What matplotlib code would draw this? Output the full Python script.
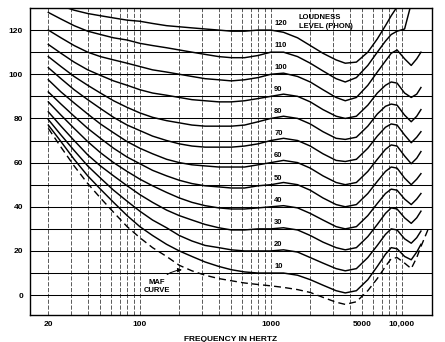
import matplotlib
matplotlib.use("Agg")
import matplotlib.pyplot as plt
from matplotlib.ticker import NullFormatter

FREQS = [20, 25, 31.5, 40, 50, 63, 80, 100, 125, 160, 200, 250, 315, 400, 500,
         630, 800, 1000, 1250, 1600, 2000, 2500, 3150, 3700, 4500, 5500, 6500,
         7500, 8300, 9200, 10500, 11800, 13000, 14000]

# Sound pressure level (dB) of each equal-loudness contour
PHON_10 = [77, 69.5, 61.5, 54, 48, 42, 36, 31, 27, 23, 20, 17.5, 15, 13, 11.5,
           10.5, 10, 10, 10, 9, 7, 4.5, 2, 1, 2, 7, 13, 18.5, 21.5, 21, 17.5, 16, 19.5, 23]
PHON_20 = [79.5, 72.5, 65.5, 58.5, 53, 47.5, 42.5, 38, 34, 30.5, 27, 24.5, 22.5, 21.5, 20.5,
           20, 20, 20, 20.5, 19.5, 17, 14.5, 12, 11, 12, 17, 22.5, 27.5, 30, 29.5, 25.5, 23.5, 26, 29]
PHON_30 = [83, 76.5, 70, 63.5, 58.5, 54, 49.5, 45.5, 42, 38.5, 36, 34, 32, 30.5, 29.5,
           29.5, 30, 30, 30.5, 29.5, 27, 24, 21.5, 20.5, 21.5, 26.5, 32, 37, 39.5, 39, 35, 32.5, 35, 38]
PHON_40 = [87.5, 81.5, 75.5, 69.5, 64.5, 60, 56, 52.5, 49.5, 46.5, 44, 42, 40.5, 39.5, 39,
           39, 39.5, 40, 40.5, 39.5, 37, 34, 31, 30, 31, 36, 41.5, 46, 48, 47.5, 43.5, 41, 43.5, 46]
PHON_50 = [92, 86.5, 81, 75.5, 71, 66.5, 62.5, 59.5, 56.5, 54, 52, 50.5, 49.5, 49, 48.5,
           48.5, 49.5, 50, 51, 50, 47.5, 44, 41, 40, 41, 46, 51.5, 56, 58, 57.5, 53, 50, 52.5, 55]
PHON_60 = [97.5, 92, 87, 82, 77.5, 73.5, 69.5, 66.5, 64, 61.5, 60, 59, 58.5, 58, 58,
           58, 59, 60, 61, 60, 57.5, 54, 51, 50, 51, 56, 61.5, 66, 68, 67.5, 63, 59.5, 62, 65]
PHON_70 = [103, 98, 93, 88.5, 84.5, 80.5, 77, 74.5, 72, 70, 68.5, 67.5, 67, 67, 67,
           67.5, 68.5, 70, 71, 70, 67.5, 64, 61, 60.5, 61.5, 66.5, 72, 76, 77.5, 77, 72.5, 69, 71.5, 74]
PHON_80 = [108, 103.5, 99, 95, 91.5, 88, 85, 82.5, 80.5, 79, 78, 77, 76.5, 76.5, 76.5,
           77, 78.5, 80, 81, 80, 77.5, 74, 71, 70.5, 71.5, 76.5, 82, 85.5, 86.5, 86, 81.5, 78.5, 81, 84]
PHON_90 = [113.5, 109.5, 105.5, 102, 99.5, 97, 95, 93, 91.5, 90.5, 89.5, 88.5, 88, 87.5, 87.5,
           88, 89, 90, 91, 90, 87.5, 84, 81, 80, 81, 86, 91.5, 95, 96.5, 96, 91.5, 89.5, 91, 94]
PHON_100 = [120, 116.5, 113, 110, 108, 106.5, 105, 103.5, 102, 101, 100, 99, 98, 97.5, 97,
            97.5, 98.5, 100, 100.5, 99, 96.5, 93, 89.5, 88, 89.5, 95, 101, 106, 109.5, 111, 107, 104, 107, 110]
PHON_110 = [128, 125, 122, 119.5, 118, 116.5, 115.5, 114, 113, 112, 111, 110, 109, 108, 107.5,
            107.5, 108.5, 110, 110, 108, 105, 101.5, 98, 96.5, 98.5, 104, 110, 115, 118, 119.5, 120.5, 132, 145, 150]
PHON_120 = [134, 131, 129, 127.5, 126.5, 125.5, 124.5, 124, 123, 122, 121.5, 121, 120.5, 120, 119.5,
            119.5, 120, 120, 119, 116.5, 113, 109.5, 106.5, 105, 105.5, 110, 116, 122, 126.5, 130.5, 136, 140, 145, 150]

# Minimum audible field, runs a little further up in frequency
MAF_FREQS = FREQS + [15800]
MAF = [75.5, 67, 58.5, 50.5, 44, 37.5, 31, 26, 21.5, 17.5, 13.5, 11, 9, 7.5, 6.5,
       5.5, 4.8, 4.2, 3.5, 2.5, 1.2, -1, -3.2, -4.2, -3, 2, 7.5, 13, 16.5, 17, 14.5, 12, 17, 22, 29.5]

PHON_LEVELS = [10, 20, 30, 40, 50, 60, 70, 80, 90, 100, 110, 120]
CONTOURS = [PHON_10, PHON_20, PHON_30, PHON_40, PHON_50, PHON_60,
            PHON_70, PHON_80, PHON_90, PHON_100, PHON_110, PHON_120]

X_TICKS = [20, 100, 1000, 5000, 10000]
X_TICK_LABELS = ["20", "100", "1000", "5000", "10,000"]
X_GRID = [30, 40, 50, 60, 70, 80, 90, 200, 300, 400, 500, 600, 700, 800, 900,
          2000, 3000, 4000, 6000, 7000, 8000, 9000]

plt.rcParams["font.family"] = ["Liberation Sans", "DejaVu Sans"]

fig = plt.figure(figsize=(4.45, 3.42), dpi=100)
ax = fig.add_axes([30 / 445, 1 - 315 / 342, 402 / 445, 307 / 342])

ax.set_xscale("log")
ax.set_xlim(14.5, 17000)
ax.set_ylim(-9, 130)

# grid: solid horizontals every 10 dB, broken verticals
ax.set_yticks(range(0, 121, 20))
ax.set_yticks(range(10, 131, 20), minor=True)
ax.set_xticks(X_TICKS, labels=X_TICK_LABELS)
ax.set_xticks(X_GRID, minor=True)
ax.xaxis.set_minor_formatter(NullFormatter())
ax.grid(axis="y", which="both", color="black", lw=0.75)
ax.grid(axis="x", which="both", color="0.25", lw=0.6, ls=(0, (5, 2)))
ax.tick_params(which="both", length=0)
ax.tick_params(axis="y", pad=5, labelsize=6)
ax.tick_params(axis="x", pad=4, labelsize=6)
for lab in ax.get_xticklabels() + ax.get_yticklabels():
    lab.set_fontweight("bold")
for sp in ax.spines.values():
    sp.set_linewidth(1.0)

for level, vals in zip(PHON_LEVELS, CONTOURS):
    ax.plot(FREQS, vals, color="black", lw=1.05, zorder=3)
    ax.text(1060, level + 3, str(level), fontsize=5.5, fontweight="bold",
            ha="left", va="center", zorder=4)

ax.plot(MAF_FREQS, MAF, color="black", lw=1.0, ls=(0, (5, 3)), zorder=3)

ax.text(1640, 125.8, "LOUDNESS", fontsize=5.5, fontweight="bold", va="center")
ax.text(1640, 121.7, "LEVEL (PHON)", fontsize=5.5, fontweight="bold", va="center")

ax.annotate("MAF\nCURVE", xy=(220, 11.5), xytext=(135, 4), fontsize=5.5,
            fontweight="bold", ha="center", va="center", linespacing=1.1,
            arrowprops=dict(arrowstyle="-|>", color="black", lw=0.7,
                            connectionstyle="arc3,rad=-0.3", mutation_scale=6))

ax.set_xlabel("FREQUENCY IN HERTZ", fontsize=6, fontweight="bold", labelpad=6)

fig.savefig("out.png", dpi=100)
